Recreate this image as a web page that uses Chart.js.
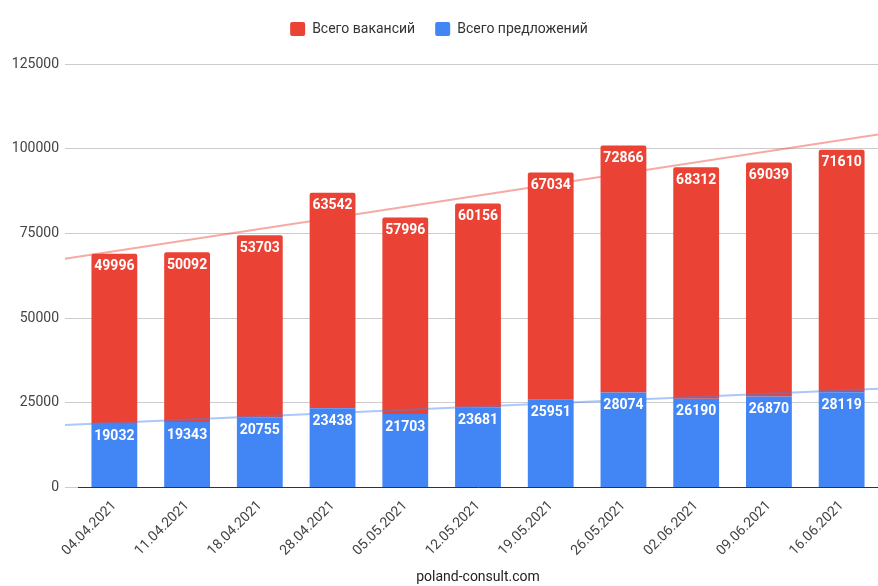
<!DOCTYPE html>
<html>
<head>
<meta charset="utf-8">
<script src="https://cdn.jsdelivr.net/npm/chart.js@4.4.0/dist/chart.umd.min.js"></script>
<style>
  html, body { margin: 0; padding: 0; background: #fff; }
  #wrap { width: 878px; height: 586px; }
</style>
</head>
<body>
<div id="wrap"><canvas id="offersChart" width="878" height="586"></canvas></div>
<script>
const dates = ['04.04.2021', '11.04.2021', '18.04.2021', '28.04.2021', '05.05.2021', '12.05.2021',
    '19.05.2021', '26.05.2021', '02.06.2021', '09.06.2021', '16.06.2021'];
const offers = [19032, 19343, 20755, 23438, 21703, 23681, 25951, 28074, 26190, 26870, 28119];
const vacancies = [49996, 50092, 53703, 63542, 57996, 60156, 67034, 72866, 68312, 69039, 71610];
const yTicks = [0, 25000, 50000, 75000, 100000, 125000];
const sourceLabel = 'poland-consult.com';

const RED = '#EA4335';
const BLUE = '#4285F4';
const TICK_LEN = 13;

// least squares fit over the category index
function linearFit(values) {
    const n = values.length;
    const mx = (n - 1) / 2;
    const my = values.reduce((a, b) => a + b, 0) / n;
    let sxy = 0, sxx = 0;
    values.forEach((v, i) => {
        sxy += (i - mx) * (v - my);
        sxx += (i - mx) * (i - mx);
    });
    const slope = sxy / sxx;
    return i => my + slope * (i - mx);
}

// extra room below the legend
const legendSpacer = {
    id: 'legendSpacer',
    beforeInit(chart) {
        const fit = chart.legend.fit;
        chart.legend.fit = function () {
            fit.bind(chart.legend)();
            this.height += 18;
        };
    }
};

const trendlinePlugin = {
    id: 'trendlines',
    afterDatasetsDraw(chart) {
        const xs = chart.scales.x;
        const ys = chart.scales.y;
        const area = chart.chartArea;
        const p0 = xs.getPixelForValue(0);
        const step = xs.getPixelForValue(1) - p0;
        const leftPx = area.left - TICK_LEN;
        const rightPx = area.right;
        const iLeft = (leftPx - p0) / step;
        const iRight = (rightPx - p0) / step;

        const totals = vacancies.map((v, i) => v + offers[i]);
        const lines = [
            { fit: linearFit(totals), color: 'rgba(234, 67, 53, 0.45)' },
            { fit: linearFit(offers), color: 'rgba(66, 133, 244, 0.45)' }
        ];
        const ctx = chart.ctx;
        ctx.save();
        lines.forEach(l => {
            ctx.strokeStyle = l.color;
            ctx.lineWidth = 2;
            ctx.beginPath();
            ctx.moveTo(leftPx, ys.getPixelForValue(l.fit(iLeft)));
            ctx.lineTo(rightPx, ys.getPixelForValue(l.fit(iRight)));
            ctx.stroke();
        });

        // value labels inside the top of each segment
        ctx.fillStyle = '#fff';
        ctx.font = 'bold 14px Roboto';
        ctx.textAlign = 'center';
        ctx.textBaseline = 'middle';
        chart.data.datasets.forEach((ds, di) => {
            const meta = chart.getDatasetMeta(di);
            meta.data.forEach((bar, i) => {
                ctx.fillText(String(ds.data[i]), bar.x, bar.y + 13);
            });
        });
        ctx.restore();
    }
};

const ctx = document.getElementById('offersChart').getContext('2d');
new Chart(ctx, {
    type: 'bar',
    data: {
        labels: dates,
        datasets: [{
            label: 'Всего предложений',
            data: offers,
            backgroundColor: BLUE,
            borderRadius: 0
        }, {
            label: 'Всего вакансий',
            data: vacancies,
            backgroundColor: RED,
            borderRadius: { topLeft: 2, topRight: 2 },
            borderSkipped: false
        }]
    },
    options: {
        responsive: false,
        animation: false,
        devicePixelRatio: 1,
        categoryPercentage: 0.63,
        barPercentage: 1,
        layout: { padding: { top: 2, right: 0, left: 0, bottom: 0 } },
        plugins: {
            legend: {
                position: 'top',
                reverse: true,
                labels: {
                    boxWidth: 15,
                    boxHeight: 14,
                    useBorderRadius: true,
                    borderRadius: 2,
                    padding: 20,
                    color: '#333',
                    font: { family: 'Roboto', size: 14 }
                }
            },
            tooltip: { enabled: false }
        },
        scales: {
            x: {
                stacked: true,
                grid: { display: false },
                border: { display: true, color: '#333', width: 1 },
                ticks: {
                    color: '#444',
                    maxRotation: 45,
                    minRotation: 45,
                    padding: 2,
                    font: { family: 'Roboto', size: 14 }
                },
                title: {
                    display: true,
                    text: sourceLabel,
                    color: '#222',
                    padding: { top: 8, bottom: 0 },
                    font: { family: 'Roboto', size: 14 }
                }
            },
            y: {
                stacked: true,
                min: yTicks[0],
                max: yTicks[yTicks.length - 1],
                afterFit: scale => { scale.width = 78; },
                afterBuildTicks: scale => { scale.ticks = yTicks.map(v => ({ value: v })); },
                grid: { color: '#ccc', tickLength: TICK_LEN, tickColor: '#ccc' },
                border: { display: false },
                ticks: {
                    color: '#444',
                    padding: 6,
                    font: { family: 'Roboto', size: 14 },
                    callback: v => String(v)
                }
            }
        }
    },
    plugins: [legendSpacer, trendlinePlugin]
});
</script>
</body>
</html>
